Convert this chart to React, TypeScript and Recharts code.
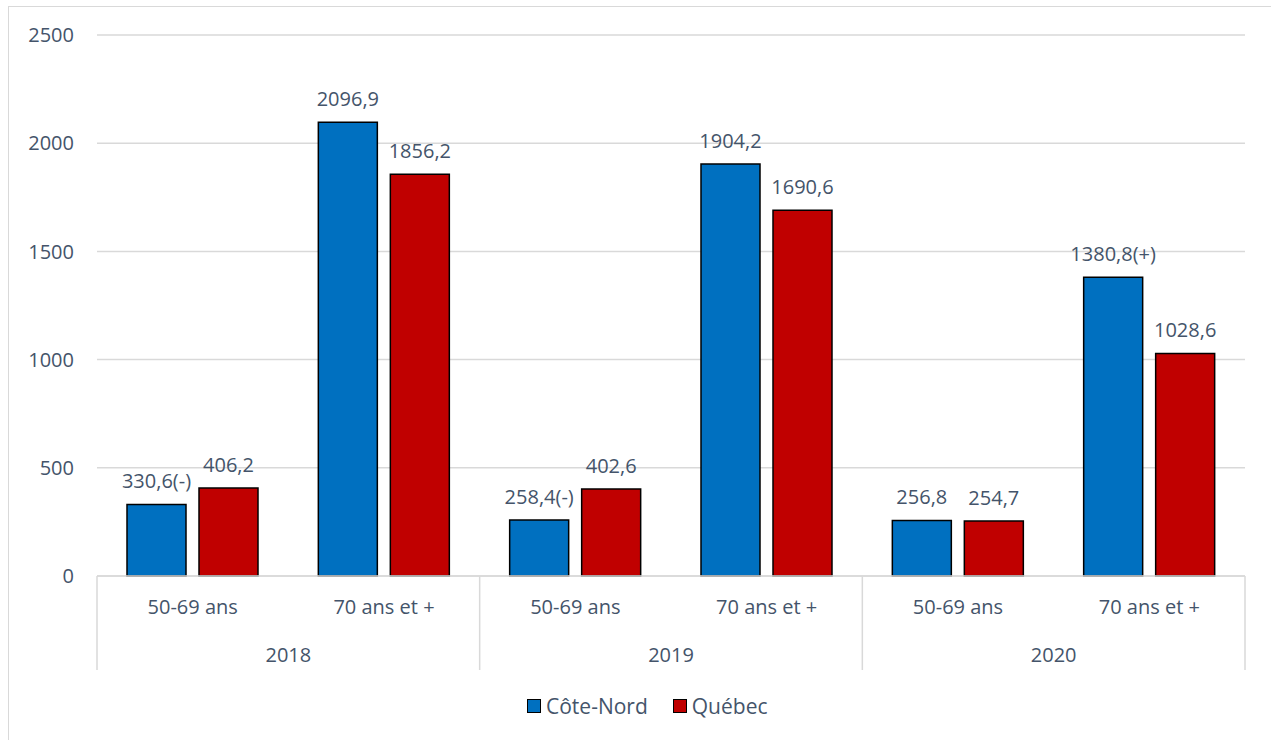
import React from 'react';
import { ComposedChart, Bar, XAxis, YAxis, CartesianGrid, LabelList, Legend } from 'recharts';

const years = ['2018', '2019', '2020'];
const ageGroups = ['50-69 ans', '70 ans et +'];
const coteNord = [330.6, 2096.9, 258.4, 1904.2, 256.8, 1380.8];
const quebec = [406.2, 1856.2, 402.6, 1690.6, 254.7, 1028.6];
const coteNordFlags = ['(-)', '', '(-)', '', '', '(+)'];
const quebecFlags = ['', '', '', '', '', ''];
const seriesNames = ['Côte-Nord', 'Québec'];
const seriesColors = ['#0070C0', '#C00000'];
const yTicks = [0, 500, 1000, 1500, 2000, 2500];

const fmt = (v: number, flag: string) => v.toFixed(1).replace('.', ',') + flag;

const data = years.flatMap((year, yi) =>
  ageGroups.map((age, ai) => {
    const i = yi * ageGroups.length + ai;
    return {
      year,
      age,
      cn: coteNord[i],
      qc: quebec[i],
      cnLabel: fmt(coteNord[i], coteNordFlags[i]),
      qcLabel: fmt(quebec[i], quebecFlags[i]),
    };
  })
);

const FONT = '"Open Sans", sans-serif';
const TEXT = '#44546A';
const GRID = '#D9D9D9';
const FS = 20;

const AgeTick = (props: any) => {
  const { x, y, payload, index } = props;
  const off = payload.offset || 0;
  const n = data.length;
  return (
    <g>
      <text x={x} y={y + 38} textAnchor="middle" fill={TEXT} fontSize={FS} fontFamily={FONT}>
        {payload.value}
      </text>
      {index % ageGroups.length === 0 && (
        <line x1={x - off} x2={x - off} y1={y} y2={y + 94} stroke={GRID} strokeWidth={1.5} />
      )}
      {index === n - 1 && (
        <line x1={x + off} x2={x + off} y1={y} y2={y + 94} stroke={GRID} strokeWidth={1.5} />
      )}
    </g>
  );
};

const YearTick = (props: any) => {
  const { x, y, payload, index } = props;
  const off = payload.offset || 0;
  if (index % ageGroups.length !== 0) return <g />;
  return (
    <text x={x + off} y={y + 39} textAnchor="middle" fill={TEXT} fontSize={FS} fontFamily={FONT}>
      {payload.value}
    </text>
  );
};

const LegendContent = () => (
  <div style={{ display: 'flex', alignItems: 'center', height: 24, fontFamily: FONT, fontSize: 21, color: TEXT }}>
    {seriesNames.map((name, i) => (
      <div key={name} style={{ display: 'flex', alignItems: 'center', marginRight: 25 }}>
        <div
          style={{
            width: 12,
            height: 12,
            background: seriesColors[i],
            border: '1.5px solid #000',
            marginRight: 5,
          }}
        />
        <span style={{ lineHeight: '24px' }}>{name}</span>
      </div>
    ))}
  </div>
);

export default function App() {
  return (
    <div
      style={{
        position: 'fixed',
        left: 0,
        top: 0,
        width: 1271,
        height: 740,
        overflow: 'hidden',
        background: '#fff',
      }}
    >
      <div
        style={{
          position: 'absolute',
          left: 8,
          top: 6,
          width: 1400,
          height: 900,
          borderLeft: `1.5px solid ${GRID}`,
          borderTop: `1.5px solid ${GRID}`,
        }}
      />
      <div style={{ position: 'absolute', left: 0, top: 0 }}>
        <ComposedChart
          width={1271}
          height={740}
          data={data}
          margin={{ top: 35, right: 26, left: 37, bottom: 70 }}
          barGap={13}
        >
          <CartesianGrid vertical={false} stroke={GRID} strokeWidth={1.5} />
          <YAxis
            domain={[0, 2500]}
            ticks={yTicks}
            width={60}
            axisLine={false}
            tickLine={false}
            tickSize={0}
            tickMargin={23}
            tick={{ fill: TEXT, fontSize: FS, fontFamily: FONT }}
          />
          <XAxis
            xAxisId="age"
            dataKey="age"
            height={47}
            axisLine={{ stroke: GRID, strokeWidth: 1.5 }}
            tickLine={false}
            tickSize={0}
            tickMargin={0}
            interval={0}
            tick={<AgeTick />}
          />
          <XAxis
            xAxisId="year"
            dataKey="year"
            height={47}
            axisLine={false}
            tickLine={false}
            tickSize={0}
            tickMargin={0}
            interval={0}
            tick={<YearTick />}
          />
          <Legend
            layout="horizontal"
            verticalAlign="middle"
            align="center"
            content={<LegendContent />}
            wrapperStyle={{ left: 527, top: 694, width: 'auto', height: 24 }}
          />
          <Bar xAxisId="age" dataKey="cn" name={seriesNames[0]} fill={seriesColors[0]} stroke="#000" strokeWidth={1.5} barSize={59} isAnimationActive={false}>
            <LabelList dataKey="cnLabel" position="top" offset={16} fill={TEXT} fontSize={FS} fontFamily={FONT} />
          </Bar>
          <Bar xAxisId="age" dataKey="qc" name={seriesNames[1]} fill={seriesColors[1]} stroke="#000" strokeWidth={1.5} barSize={59} isAnimationActive={false}>
            <LabelList dataKey="qcLabel" position="top" offset={16} fill={TEXT} fontSize={FS} fontFamily={FONT} />
          </Bar>
        </ComposedChart>
      </div>
    </div>
  );
}
